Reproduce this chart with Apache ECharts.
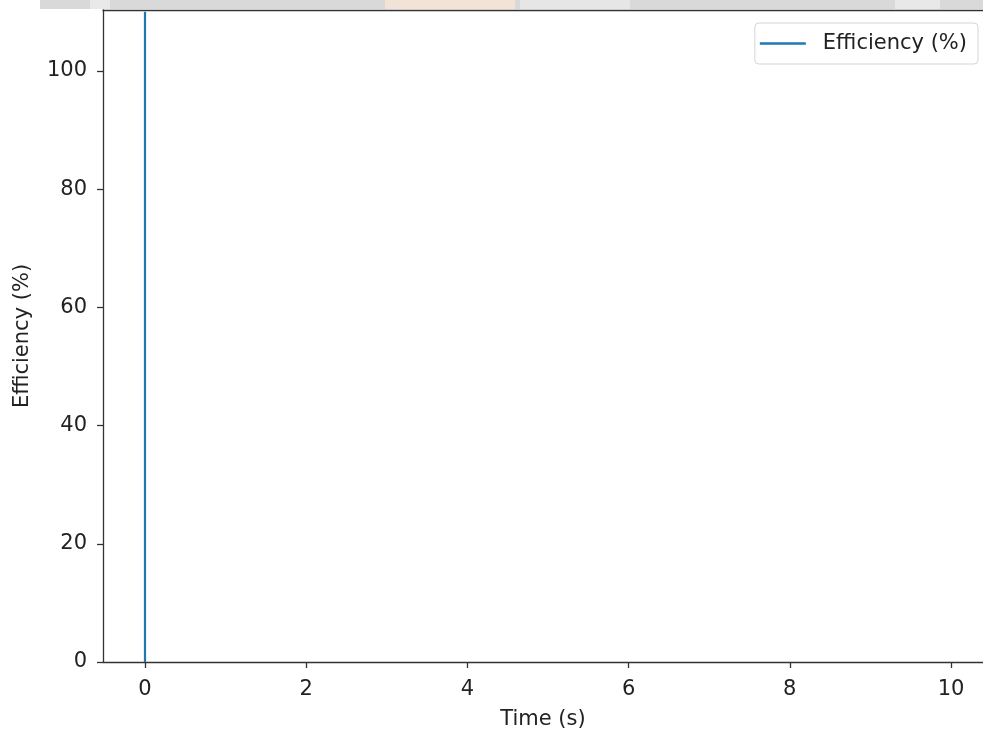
<!DOCTYPE html>
<html>
<head>
<meta charset="utf-8">
<script src="https://cdn.jsdelivr.net/npm/echarts@6/dist/echarts.min.js"></script>
<style>
html,body{margin:0;padding:0;background:#fff;}
#c{width:983px;height:733px;}
</style>
</head>
<body>
<div id="c"></div>
<script>
const timeValues = [0, 0];
const efficiencyValues = [0, 110];
const xTicks = [0, 2, 4, 6, 8, 10];
const yTicks = [0, 20, 40, 60, 80, 100];
const seriesName = 'Efficiency (%)';

const chart = echarts.init(document.getElementById('c'), null, {renderer: 'canvas'});
const font = 'DejaVu Sans';
const fs = 21;
chart.setOption({
  animation: false,
  backgroundColor: '#ffffff',
  graphic: [
    {type: 'rect', shape: {x: 40, y: 0, width: 943, height: 9}, style: {fill: '#d9d9d9'}, z: -1},
    {type: 'rect', shape: {x: 90, y: 0, width: 20, height: 9}, style: {fill: '#e9e9e9'}, z: -1},
    {type: 'rect', shape: {x: 385, y: 0, width: 130, height: 9}, style: {fill: '#f3e2d6'}, z: -1},
    {type: 'rect', shape: {x: 520, y: 0, width: 110, height: 9}, style: {fill: '#e6e6e6'}, z: -1},
    {type: 'rect', shape: {x: 895, y: 0, width: 45, height: 9}, style: {fill: '#e8e8e8'}, z: -1}
  ],
  grid: {
    left: 103, top: 10, right: 0, height: 652,
    outerBoundsMode: 'none',
    containLabel: false,
    show: false
  },
  legend: {
    data: [{name: seriesName, icon: 'rect'}],
    right: 5, top: 23,
    orient: 'vertical',
    itemWidth: 46, itemHeight: 2.4,
    padding: [10, 11, 10, 5],
    borderColor: '#d4d4d4', borderWidth: 1, borderRadius: 4,
    backgroundColor: '#fff',
    textStyle: {fontFamily: font, fontSize: fs, color: '#222', padding: [0, 0, 0, 12]}
  },
  xAxis: [{
    type: 'value', min: -0.521, max: 10.397,
    name: 'Time (s)', nameLocation: 'middle', nameGap: 47,
    nameTextStyle: {fontFamily: font, fontSize: fs, color: '#222'},
    axisLine: {show: true, onZero: false, lineStyle: {color: '#333', width: 1.3}},
    axisTick: {show: true, length: 6, customValues: xTicks, lineStyle: {color: '#333', width: 1.3}},
    axisLabel: {customValues: xTicks, fontFamily: font, fontSize: fs, color: '#222', margin: 17},
    splitLine: {show: false}
  }, {
    type: 'value', position: 'top', min: -0.521, max: 10.397,
    axisLine: {show: true, onZero: false, lineStyle: {color: '#333', width: 1.3}},
    axisTick: {show: false}, axisLabel: {show: false}, splitLine: {show: false}
  }],
  yAxis: {
    type: 'value', min: 0, max: 110.3,
    name: 'Efficiency (%)', nameLocation: 'middle', nameGap: 70,
    nameTextStyle: {fontFamily: font, fontSize: fs, color: '#222'},
    axisLine: {show: true, onZero: false, lineStyle: {color: '#333', width: 1.3}},
    axisTick: {show: true, length: 6, customValues: yTicks, lineStyle: {color: '#333', width: 1.3}},
    axisLabel: {customValues: yTicks, fontFamily: font, fontSize: fs, color: '#222', margin: 16},
    splitLine: {show: false}
  },
  series: [{
    name: seriesName,
    type: 'line',
    data: timeValues.map((t, i) => [t, efficiencyValues[i]]),
    symbol: 'none',
    lineStyle: {color: '#1f77b4', width: 2.2},
    itemStyle: {color: '#1f77b4'},
    clip: true
  }]
});
</script>
</body>
</html>
